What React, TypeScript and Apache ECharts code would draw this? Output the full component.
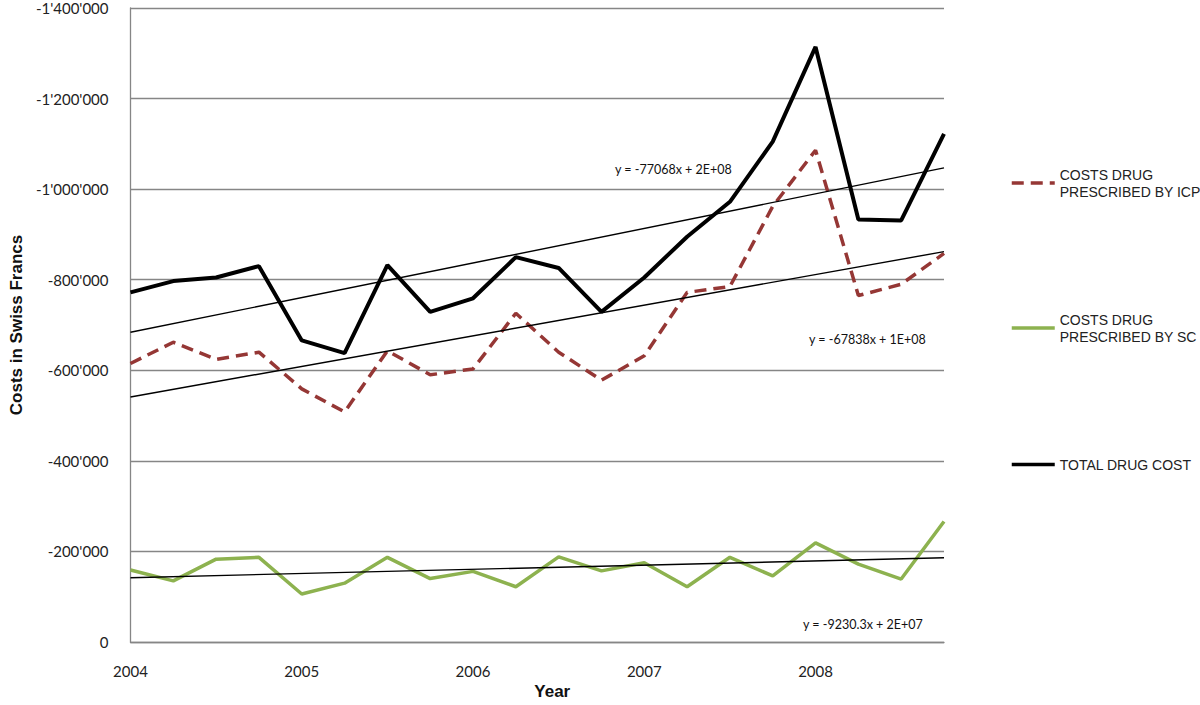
import React, { useEffect, useRef } from "react";
import * as echarts from "echarts";

const quarters = [
  "2004 Q1", "2004 Q2", "2004 Q3", "2004 Q4",
  "2005 Q1", "2005 Q2", "2005 Q3", "2005 Q4",
  "2006 Q1", "2006 Q2", "2006 Q3", "2006 Q4",
  "2007 Q1", "2007 Q2", "2007 Q3", "2007 Q4",
  "2008 Q1", "2008 Q2", "2008 Q3", "2008 Q4",
];

const icpCosts = [
  -615000, -662000, -624000, -640000, -559000, -508000, -643000, -590000, -603000, -726000,
  -640000, -578000, -632000, -772000, -785000, -962000, -1086000, -765000, -790000, -858000,
];

const scCosts = [
  -159000, -135000, -183000, -187000, -106000, -130000, -187000, -140000, -156000, -122000,
  -188000, -157000, -175000, -122000, -187000, -146000, -219000, -172000, -139000, -266000,
];

const totalCosts = [
  -772000, -797000, -805000, -830000, -666000, -638000, -832000, -729000, -759000, -850000,
  -826000, -729000, -805000, -895000, -972000, -1105000, -1314000, -933000, -931000, -1122000,
];

// trend line end values (first and last quarter)
const totalTrend = [-684000, -1047000];
const icpTrend = [-541000, -862000];
const scTrend = [-142000, -186000];

const equations = ["y = -77068x + 2E+08", "y = -67838x + 1E+08", "y = -9230.3x + 2E+07"];

const seriesNames = ["COSTS DRUG PRESCRIBED BY ICP", "COSTS DRUG PRESCRIBED BY SC", "TOTAL DRUG COST"];
const legendLabels: Record<string, string> = {
  "COSTS DRUG PRESCRIBED BY ICP": "COSTS DRUG\nPRESCRIBED BY ICP",
  "COSTS DRUG PRESCRIBED BY SC": "COSTS DRUG\nPRESCRIBED BY SC",
  "TOTAL DRUG COST": "TOTAL DRUG COST",
};

const yTicksMin = -1400000;
const yTicksMax = 0;
const yInterval = 200000;

function fmt(v: number): string {
  const s = Math.abs(v).toString().replace(/\B(?=(\d{3})+(?!\d))/g, "'");
  return v < 0 ? "-" + s : s;
}

function trendData(ends: number[]) {
  return [
    [0, ends[0]],
    [quarters.length - 1, ends[1]],
  ];
}

export default function App() {
  const ref = useRef<HTMLDivElement>(null);
  useEffect(() => {
    if (!ref.current) return;
    const chart = echarts.init(ref.current, undefined, { renderer: "svg" });
    const trendStyle = { color: "#000", width: 1.4 };
    chart.setOption({
      animation: false,
      backgroundColor: "#fff",
      grid: { left: 122, right: 256, top: 8, bottom: 61 },
      legend: {
        data: seriesNames,
        orient: "vertical",
        left: 1010,
        top: 166,
        padding: 0,
        itemGap: 111,
        itemWidth: 43,
        itemHeight: 14,
        itemStyle: { opacity: 0 },
        lineStyle: { width: 3.5 },
        formatter: (n: string) => legendLabels[n] || n,
        textStyle: {
          fontFamily: "Liberation Sans",
          fontSize: 14,
          lineHeight: 17,
          color: "#222",
        },
      },
      xAxis: {
        type: "category",
        data: quarters,
        boundaryGap: false,
        name: "Year",
        nameLocation: "middle",
        nameGap: 41,
        nameTextStyle: {
          fontFamily: "Liberation Sans",
          fontWeight: "bold",
          fontSize: 17,
          color: "#111",
          padding: [0, 0, 0, 30],
        },
        axisLine: { lineStyle: { color: "#868686", width: 1.3 } },
        axisTick: { show: false },
        axisLabel: {
          interval: 3,
          margin: 21,
          formatter: (v: string) => v.slice(0, 4),
          fontFamily: "Lato",
          fontSize: 15,
          color: "#222",
        },
        splitLine: { show: false },
      },
      yAxis: {
        type: "value",
        inverse: true,
        min: yTicksMin,
        max: yTicksMax,
        interval: yInterval,
        name: "Costs in Swiss Francs",
        nameLocation: "middle",
        nameGap: 104,
        nameTextStyle: { fontFamily: "Liberation Sans", fontWeight: "bold", fontSize: 17, color: "#111" },
        axisLine: { show: true, lineStyle: { color: "#868686", width: 1.3 } },
        axisTick: { show: false },
        axisLabel: {
          margin: 22,
          formatter: (v: number) => fmt(v),
          fontFamily: "Lato",
          fontSize: 15,
          color: "#222",
        },
        splitLine: { show: true, lineStyle: { color: "#868686", width: 1.3 } },
      },
      series: [
        {
          name: seriesNames[0],
          type: "line",
          data: icpCosts,
          symbol: "none",
          z: 3,
          lineStyle: { color: "#953735", width: 3.5, type: [12, 7], cap: "butt" },
          itemStyle: { color: "#953735" },
        },
        {
          name: seriesNames[1],
          type: "line",
          data: scCosts,
          symbol: "none",
          z: 3,
          lineStyle: { color: "#8db24f", width: 3.5 },
          itemStyle: { color: "#8db24f" },
        },
        {
          name: seriesNames[2],
          type: "line",
          data: totalCosts,
          symbol: "none",
          z: 3,
          lineStyle: { color: "#000", width: 4 },
          itemStyle: { color: "#000" },
        },
        { name: "trend total", type: "line", data: trendData(totalTrend), symbol: "none", z: 4, lineStyle: trendStyle, silent: true },
        { name: "trend icp", type: "line", data: trendData(icpTrend), symbol: "none", z: 4, lineStyle: trendStyle, silent: true },
        { name: "trend sc", type: "line", data: trendData(scTrend), symbol: "none", z: 4, lineStyle: trendStyle, silent: true },
      ],
      graphic: [
        { type: "text", left: 615, top: 163, style: { text: equations[0], font: "12.5px Lato", fill: "#111" } },
        { type: "text", left: 809, top: 333, style: { text: equations[1], font: "12.5px Lato", fill: "#111" } },
        { type: "text", left: 803, top: 618, style: { text: equations[2], font: "12.5px Lato", fill: "#111" } },
      ],
    });
    return () => chart.dispose();
  }, []);
  return <div ref={ref} style={{ width: 1200, height: 705, position: "absolute", left: 0, top: 0 }} />;
}
